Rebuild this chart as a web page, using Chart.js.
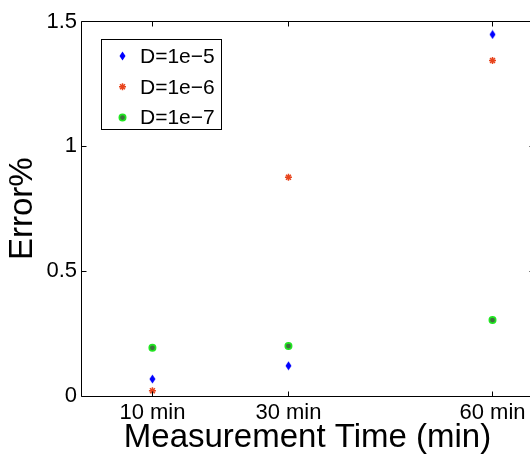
<!DOCTYPE html>
<html><head><meta charset="utf-8">
<script src="https://cdn.jsdelivr.net/npm/chart.js@4/dist/chart.umd.min.js"></script>
<style>html,body{margin:0;padding:0;overflow:hidden;background:#fff}
#wrap{width:540px;height:454px;position:relative}</style></head>
<body><div id="wrap"><canvas id="c"></canvas></div>
<script>
const measurementTimes = [10, 30, 60];
const xTickLabels = ['10 min', '30 min', '60 min'];
const yTickValues = [0, 0.5, 1, 1.5];
const yTickLabels = ['0', '0.5', '1', '1.5'];
const seriesNames = ['D=1e\u22125', 'D=1e\u22126', 'D=1e\u22127'];
const errD5 = [0.068, 0.121, 1.448];
const errD6 = [0.021, 0.876, 1.344];
const errD7 = [0.193, 0.200, 0.304];
const xTitle = 'Measurement Time (min)';
const yTitle = 'Error%';

const FONT = '"Liberation Sans", Arial, Helvetica, sans-serif';

function diamondMarker() {
  const c = document.createElement('canvas');
  c.width = 7; c.height = 10;
  const g = c.getContext('2d');
  g.fillStyle = '#0000ff';
  g.beginPath();
  g.moveTo(3.5, 0.5); g.lineTo(6.5, 5); g.lineTo(3.5, 9.5); g.lineTo(0.5, 5);
  g.closePath(); g.fill();
  return c;
}
const diamond = diamondMarker();

function pts(arr) { return measurementTimes.map((x, i) => ({x: x, y: arr[i]})); }

const framePlugin = {
  id: 'frame',
  afterDatasetsDraw(chart) {
    const ctx = chart.ctx, a = chart.chartArea;
    const xs = chart.scales.x, ys = chart.scales.y;
    const L = Math.floor(a.left) + 0.5, R = Math.floor(a.right) + 0.5;
    const T = Math.floor(a.top) + 0.5, B = Math.floor(a.bottom) + 0.5;
    ctx.save();
    ctx.strokeStyle = '#000'; ctx.lineWidth = 1;
    ctx.beginPath(); ctx.rect(L, T, R - L, B - T); ctx.stroke();
    const tl = 5;
    ctx.beginPath();
    measurementTimes.forEach(v => {
      const px = Math.floor(xs.getPixelForValue(v)) + 0.5;
      ctx.moveTo(px, B); ctx.lineTo(px, B - tl);
      ctx.moveTo(px, T); ctx.lineTo(px, T + tl);
    });
    yTickValues.forEach(v => {
      const py = Math.floor(ys.getPixelForValue(v)) + 0.5;
      ctx.moveTo(L, py); ctx.lineTo(L + tl, py);
      ctx.moveTo(R, py); ctx.lineTo(R - tl, py);
    });
    ctx.stroke();
    // legend
    const bx = Math.floor(a.left + 20) + 0.5, by = Math.floor(a.top + 17.5) + 0.5;
    const bw = 120, bh = 90;
    ctx.fillStyle = '#fff';
    ctx.fillRect(bx, by, bw, bh);
    ctx.strokeRect(bx, by, bw, bh);
    ctx.font = '21px ' + FONT;
    ctx.textBaseline = 'middle';
    ctx.textAlign = 'left';
    chart.data.datasets.forEach((ds, i) => {
      const cy = by + 16.5 + i * 30.8;
      const mx = bx + 21;
      ctx.save();
      ctx.fillStyle = ds.backgroundColor;
      ctx.strokeStyle = ds.borderColor;
      ctx.lineWidth = ds.borderWidth;
      Chart.helpers.drawPoint(ctx, {pointStyle: ds.pointStyle, radius: ds.pointRadius, rotation: 0, borderWidth: ds.borderWidth}, mx, cy);
      ctx.restore();
      ctx.fillStyle = '#000';
      ctx.fillText(ds.label, bx + 38.5, cy + 1);
    });
    ctx.restore();
  }
};

new Chart(document.getElementById('c'), {
  type: 'scatter',
  data: {
    datasets: [
      {label: seriesNames[0], data: pts(errD5), pointStyle: diamond, pointRadius: 4,
       backgroundColor: '#0000ff', borderColor: '#0000ff', borderWidth: 0},
      {label: seriesNames[1], data: pts(errD6), pointStyle: 'star', pointRadius: 3.5,
       backgroundColor: '#e8441c', borderColor: '#e8441c', borderWidth: 1.5},
      {label: seriesNames[2], data: pts(errD7), pointStyle: 'circle', pointRadius: 3.2,
       backgroundColor: '#3f6f3f', borderColor: '#22e622', borderWidth: 1.6}
    ]
  },
  options: {
    responsive: true, maintainAspectRatio: false, animation: false, events: [],
    layout: {padding: {top: 21.5, right: 6, bottom: 0, left: 0}},
    plugins: {legend: {display: false}, tooltip: {enabled: false}},
    scales: {
      x: {
        type: 'linear', min: -0.5, max: 66.1,
        grid: {display: false, drawTicks: false}, border: {display: false},
        afterBuildTicks: s => { s.ticks = measurementTimes.map(v => ({value: v})); },
        afterFit: s => { s.height = 58; },
        ticks: {color: '#000', padding: 4, maxRotation: 0, autoSkip: false,
          font: {family: FONT, size: 22, lineHeight: 1.2},
          callback: (v, i) => xTickLabels[i]},
        title: {display: true, text: xTitle, color: '#000', padding: 0,
          font: {family: FONT, size: 33, lineHeight: 1}}
      },
      y: {
        type: 'linear', min: 0, max: 1.5,
        grid: {display: false, drawTicks: false}, border: {display: false},
        afterBuildTicks: s => { s.ticks = yTickValues.map(v => ({value: v})); },
        afterFit: s => { s.width = 81; },
        ticks: {color: '#000', padding: 4, autoSkip: false,
          font: {family: FONT, size: 22, lineHeight: 1.2},
          callback: (v, i) => yTickLabels[i]},
        title: {display: true, text: yTitle, color: '#000', padding: {top: 6.5, bottom: 0},
          font: {family: FONT, size: 33, lineHeight: 1}}
      }
    }
  },
  plugins: [framePlugin]
});
</script></body></html>
